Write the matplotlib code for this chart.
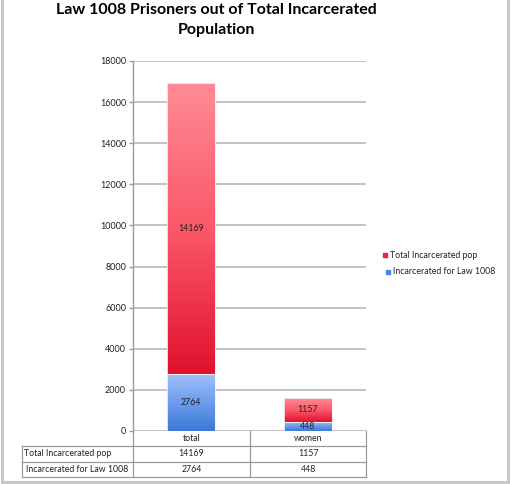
import numpy as np
import matplotlib.pyplot as plt
from matplotlib.colors import LinearSegmentedColormap
from matplotlib.lines import Line2D

categories = ['total', 'women']
law_1008 = [2764, 448]
total_pop = [14169, 1157]
series_names = ['Total Incarcerated pop', 'Incarcerated for Law 1008']
y_ticks = list(range(0, 18001, 2000))

W, H = 511, 484
BODY = ['Lato', 'DejaVu Sans']
FS = 6.3

RED_CMAP = LinearSegmentedColormap.from_list('red', ['#e0122e', '#fb5868', '#ff8b95'])
BLUE_CMAP = LinearSegmentedColormap.from_list('blue', ['#3b78d6', '#6c9cec', '#a0c0fa'])

fig = plt.figure(figsize=(W / 100, H / 100), dpi=100)
fig.patch.set_facecolor('white')


def fx(x):
    return x / W


def fy(y):
    return 1 - y / H


ax = fig.add_axes([fx(133), fy(431), fx(366) - fx(133), fy(61) - fy(431)])

x = np.arange(len(categories))
bar_w = 0.41
grad = np.linspace(0, 1, 256).reshape(-1, 1)


def gradient_bars(xs, heights, bottoms, cmap):
    bars = ax.bar(xs, heights, bar_w, bottom=bottoms, color='none',
                  edgecolor='#f4f4f4', linewidth=0.6, zorder=3)
    for b in bars:
        im = ax.imshow(grad, cmap=cmap, aspect='auto', origin='lower',
                       extent=[b.get_x(), b.get_x() + b.get_width(),
                               b.get_y(), b.get_y() + b.get_height()],
                       zorder=2)
        im.set_clip_path(b)
    return bars


gradient_bars(x, law_1008, 0, BLUE_CMAP)
gradient_bars(x, total_pop, law_1008, RED_CMAP)

for i in range(len(categories)):
    ax.text(x[i], law_1008[i] / 2, str(law_1008[i]), ha='center', va='center',
            fontsize=FS, color='#222222', family=BODY, zorder=4)
    ax.text(x[i], law_1008[i] + total_pop[i] / 2, str(total_pop[i]), ha='center',
            va='center', fontsize=FS, color='#222222', family=BODY, zorder=4)

ax.set_xlim(-0.5, len(categories) - 0.5)
ax.set_ylim(0, 18000)
ax.set_yticks(y_ticks)
ax.set_yticklabels([str(t) for t in y_ticks], fontsize=6.5, family=BODY, color='#222222')
ax.set_xticks([])
ax.grid(axis='y', color='#b8b8b8', linewidth=1.2, zorder=0)
ax.set_axisbelow(True)
for s in ['top', 'right', 'bottom']:
    ax.spines[s].set_visible(False)
ax.spines['left'].set_color('#9a9a9a')
ax.spines['left'].set_linewidth(1.0)
ax.tick_params(axis='y', length=3, width=1.0, color='#9a9a9a', pad=2)

# title
fig.text(fx(216), fy(10), 'Law 1008 Prisoners out of Total Incarcerated',
         ha='center', va='center', fontsize=11.5, fontweight='bold', family=BODY)
fig.text(fx(216), fy(30), 'Population', ha='center', va='center',
         fontsize=11.5, fontweight='bold', family=BODY)

# legend
leg_colors = ['#e8283c', '#4a86e8']
leg_y = [255, 272]
leg_x = [385, 388]
for name, c, ly, lx in zip(series_names, leg_colors, leg_y, leg_x):
    fig.patches.append(plt.Rectangle((fx(lx - 2), fy(ly + 2)), fx(4), 4 / H,
                                     transform=fig.transFigure, color=c))
    fig.text(fx(lx + 5), fy(ly), name, ha='left', va='center', fontsize=FS,
             family=BODY, color='#222222')

# data table under the chart
line_c = '#9a9a9a'
rows_y = [431, 446, 462, 477]
cols_x = [133, 250, 366]
label_left = 22


def hline(y, x0, x1):
    fig.add_artist(Line2D([fx(x0), fx(x1)], [fy(y), fy(y)], color=line_c,
                          linewidth=0.9, transform=fig.transFigure))


def vline(x0, y0, y1):
    fig.add_artist(Line2D([fx(x0), fx(x0)], [fy(y0), fy(y1)], color=line_c,
                          linewidth=0.9, transform=fig.transFigure))


hline(rows_y[1], label_left, cols_x[-1])
hline(rows_y[2], label_left, cols_x[-1])
hline(rows_y[3], label_left, cols_x[-1])
for cx in cols_x:
    vline(cx, rows_y[0], rows_y[3])
vline(label_left, rows_y[1], rows_y[3])

for j, cat in enumerate(categories):
    cxm = (cols_x[j] + cols_x[j + 1]) / 2
    fig.text(fx(cxm), fy((rows_y[0] + rows_y[1]) / 2), cat, ha='center',
             va='center', fontsize=FS, family=BODY, color='#222222')
    for r, vals in enumerate([total_pop, law_1008]):
        fig.text(fx(cxm), fy((rows_y[r + 1] + rows_y[r + 2]) / 2), str(vals[j]),
                 ha='center', va='center', fontsize=FS, family=BODY, color='#222222')

for r, name in enumerate(series_names):
    fig.text(fx(label_left + 2 + 2 * r), fy((rows_y[r + 1] + rows_y[r + 2]) / 2), name,
             ha='left', va='center', fontsize=FS, family=BODY, color='#222222')

# outer frame
for seg in [([1.5, 1.5], [0, 482]), ([508, 508], [0, 482]), ([1.5, 508], [482, 482])]:
    fig.add_artist(Line2D([fx(v) for v in seg[0]], [fy(v) for v in seg[1]],
                          color='#c8c8c8', linewidth=2.2, transform=fig.transFigure))

fig.savefig('out.png', dpi=100)
